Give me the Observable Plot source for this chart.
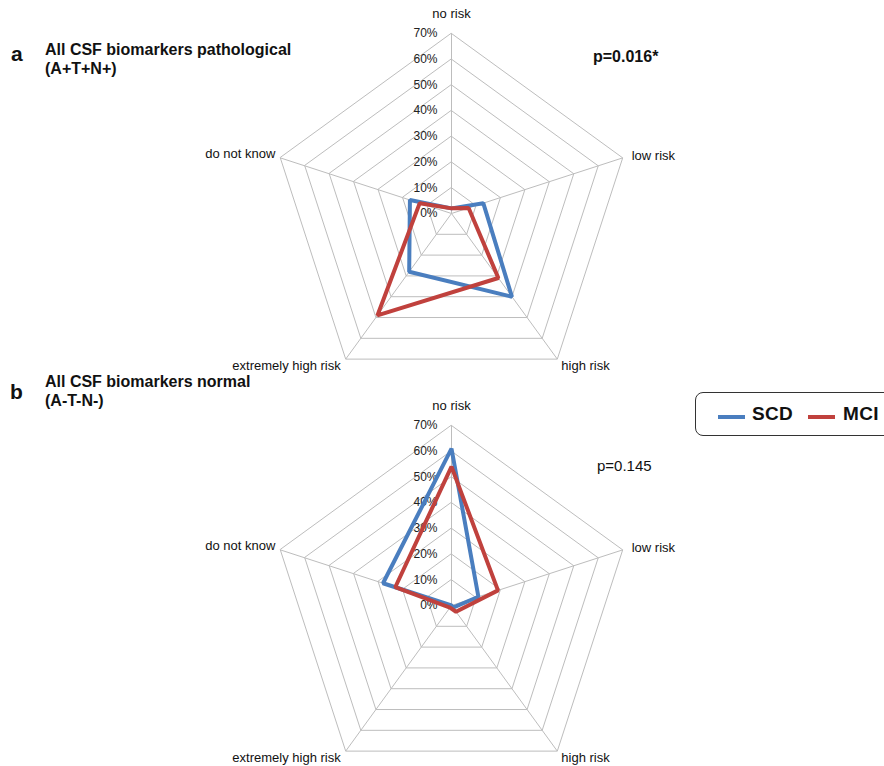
<!DOCTYPE html>
<html>
<head>
<meta charset="utf-8">
<script src="https://cdn.jsdelivr.net/npm/d3@7"></script>
<script src="https://cdn.jsdelivr.net/npm/@observablehq/plot@0.6"></script>
<style>
  html, body { margin: 0; padding: 0; background: #fff; }
  #page { position: relative; width: 884px; height: 766px; overflow: hidden; font-family: "Liberation Sans", Arial, sans-serif; color: #111; }
  .abs { position: absolute; white-space: nowrap; }
  .panel { font-size: 21px; font-weight: bold; }
  .title { font-size: 16px; font-weight: bold; line-height: 19px; }
  .pbold { font-size: 16px; font-weight: bold; }
  .pnorm { font-size: 15px; }
  #legend { position: absolute; left: 695px; top: 392px; width: 200px; height: 44px; border: 1.5px solid #333; border-radius: 8px; box-sizing: border-box; }
  .sw { position: absolute; height: 4px; width: 27px; top: 22px; }
  .lt { position: absolute; top: 10px; font-size: 19px; font-weight: bold; letter-spacing: 0.3px; }
  .plotwrap { position: absolute; left: 0; }
</style>
</head>
<body>
<div id="page">
  <div class="abs panel" style="left:11px; top:42px;">a</div>
  <div class="abs title" style="left:45px; top:40px;">All CSF biomarkers pathological<br>(A+T+N+)</div>
  <div class="abs pbold" style="left:593px; top:48px;">p=0.016*</div>

  <div class="abs panel" style="left:10px; top:380px;">b</div>
  <div class="abs title" style="left:45px; top:372px;">All CSF biomarkers normal<br>(A-T-N-)</div>
  <div class="abs pnorm" style="left:597px; top:457px;">p=0.145</div>

  <div id="legend">
    <div class="sw" style="left:22px; background:#4a7ebf;"></div>
    <div class="lt" style="left:56px;">SCD</div>
    <div class="sw" style="left:112px; background:#c0413d;"></div>
    <div class="lt" style="left:147px;">MCI</div>
  </div>

  <div id="top" class="plotwrap" style="top:0px;"></div>
  <div id="bottom" class="plotwrap" style="top:383px;"></div>
</div>
<script>
// ---- data ----
const categories = ["no risk", "low risk", "high risk", "extremely high risk", "do not know"];
const tickValues = [0, 10, 20, 30, 40, 50, 60, 70];
const seriesNames = ["SCD", "MCI"];
const seriesColors = ["#4a7ebf", "#c0413d"];
// panel a: All CSF biomarkers pathological (A+T+N+), percent
const pathologicalSCD = [2, 13, 40, 28, 17];
const pathologicalMCI = [2, 7, 31, 49, 13];
// panel b: All CSF biomarkers normal (A-T-N-), percent
const normalSCD = [61, 11, 1, 0, 28];
const normalMCI = [54, 19, 3, 1, 23];

// ---- drawing ----
const W = 884, H = 383, CX = 451, K = 180 / 70;
const ang = i => i * 2 * Math.PI / categories.length;
const px = (r, i) => r * Math.sin(ang(i));
const py = (r, i) => r * Math.cos(ang(i));

function radar(cy, scd, mci) {
  const rings = [];
  for (const t of tickValues.slice(1)) {
    categories.forEach((c, i) => rings.push({t, i}));
  }
  const spokes = categories.map((c, i) => ({c, i}));
  const pts = [];
  [scd, mci].forEach((vals, s) => {
    vals.forEach((v, i) => pts.push({series: seriesNames[s], cat: categories[i], i, v}));
  });
  const lab = (idx, opts) => Plot.text([spokes[idx]], {
    x: d => px(70, d.i), y: d => py(70, d.i), text: d => d.c,
    fontSize: 13, fill: "#111", ...opts
  });
  return Plot.plot({
    width: W, height: H, margin: 0,
    style: {fontFamily: "Liberation Sans, Arial, sans-serif", background: "transparent", overflow: "visible"},
    x: {domain: [-CX / K, (W - CX) / K], axis: null},
    y: {domain: [-(H - cy) / K, cy / K], axis: null},
    color: {domain: seriesNames, range: seriesColors},
    marks: [
      Plot.link(spokes, {x1: 0, y1: 0, x2: d => px(70, d.i), y2: d => py(70, d.i), stroke: "#bdbdbd", strokeWidth: 1}),
      Plot.line(rings, {x: d => px(d.t, d.i), y: d => py(d.t, d.i), z: "t", curve: "linear-closed", stroke: "#bdbdbd", strokeWidth: 1}),
      Plot.text(tickValues, {x: 0, y: d => d, text: d => d + "%", textAnchor: "end", dx: -14, fontSize: 12, fill: "#222"}),
      lab(0, {textAnchor: "middle", dy: -20}),
      lab(1, {textAnchor: "start", dx: 9, dy: -2}),
      lab(2, {textAnchor: "start", dx: 4, dy: 7}),
      lab(3, {textAnchor: "end", dx: -5, dy: 7}),
      lab(4, {textAnchor: "end", dx: -5, dy: -4}),
      Plot.line(pts, {x: d => px(d.v, d.i), y: d => py(d.v, d.i), z: "series", stroke: "series", curve: "linear-closed", strokeWidth: 4, strokeLinejoin: "miter"})
    ]
  });
}

document.getElementById("top").append(radar(213, pathologicalSCD, pathologicalMCI));
document.getElementById("bottom").append(radar(605 - 383, normalSCD, normalMCI));
</script>
</body>
</html>
